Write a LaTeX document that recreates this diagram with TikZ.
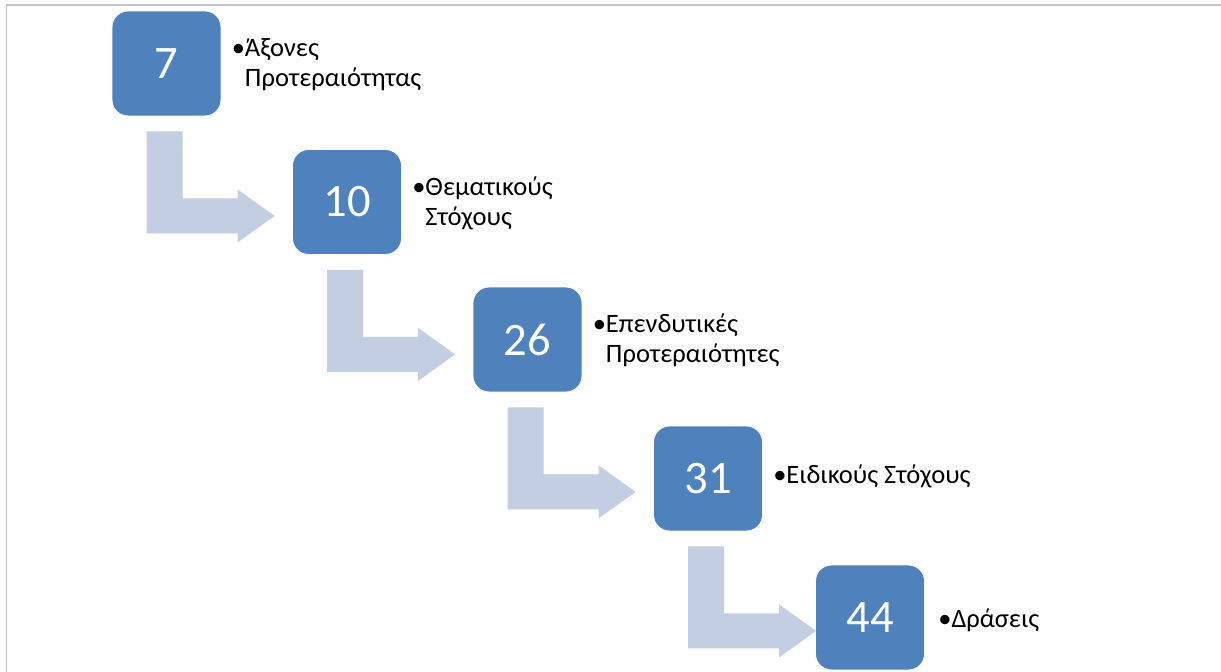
\documentclass[tikz,border=0pt]{standalone}
\usepackage{fontspec}
\setmainfont{Carlito}
\usetikzlibrary{calc}
\definecolor{boxBlue}{HTML}{4F81BD}
\definecolor{arrowGray}{HTML}{C4CEE2}
\definecolor{frameGray}{HTML}{C3C3C3}
\newcommand\colorBox{boxBlue}
\newcommand\colorStep{arrowGray}
\newcommand\colorFrame{frameGray}
\newcommand\labelFont{\fontsize{15.1}{17}\selectfont}
\newcommand\numberFont{\fontsize{26.5}{30}\selectfont}
\newcommand\stepN{4}
\tikzset{
	numbox/.style={fill=\colorBox, draw=white, line width=0.5pt, rounded corners=0.32cm,
		minimum width=2.18cm, minimum height=2.1cm, inner sep=0pt, text=white, font=\numberFont},
	bullettext/.style={anchor=base west, inner sep=0pt, font=\labelFont}
}

\begin{document}
\begin{tikzpicture}[x=0.02cm, y=-0.02cm]
		\useasboundingbox (0,0) rectangle (1221,672);
		\fill[white] (0,0) rectangle (1221,672);
		\draw[color=\colorFrame, line width=1.1pt] (6.5,672) to (6.5,5) to (1221,5);
	
		\node[numbox] (b1) at (166.5,63.5) {7};
		\node[numbox] (b2) at (347,202) {10};
		\node[numbox] (b3) at (527.5,339.5) {26};
		\node[numbox] (b4) at (708,478.5) {31};
		\node[numbox] (b5) at (870,617.5) {44};
	
		\foreach \i in {1,...,\stepN}{
			\fill[color=\colorStep] ($(b\i.south west)+(35,15)$) -- ++(36,0) -- ++(0,67) -- ++(55,0)
				-- ++(0,-9) -- ++(37,26.5) -- ++(-37,26.5) -- ++(0,-9) -- ++(-91,0) -- cycle;
		}
	
		\node[bullettext] (l1) at ($(b1.east)+(10,-6.5)$) {\begin{tabular}[t]{@{}l@{}l@{}}•&Άξονες\\&Προτεραιότητας\end{tabular}};
		\node[bullettext] (l2) at ($(b2.east)+(10,-6.5)$) {\begin{tabular}[t]{@{}l@{}l@{}}•&Θεματικούς\\&Στόχους\end{tabular}};
		\node[bullettext] (l3) at ($(b3.east)+(10,-6.5)$) {\begin{tabular}[t]{@{}l@{}l@{}}•&Επενδυτικές\\&Προτεραιότητες\end{tabular}};
		\node[bullettext] (l4) at ($(b4.east)+(10,5)$) {•Ειδικούς Στόχους};
		\node[bullettext] (l5) at ($(b5.east)+(13,10)$) {•Δράσεις};
	\end{tikzpicture}
\end{document}
